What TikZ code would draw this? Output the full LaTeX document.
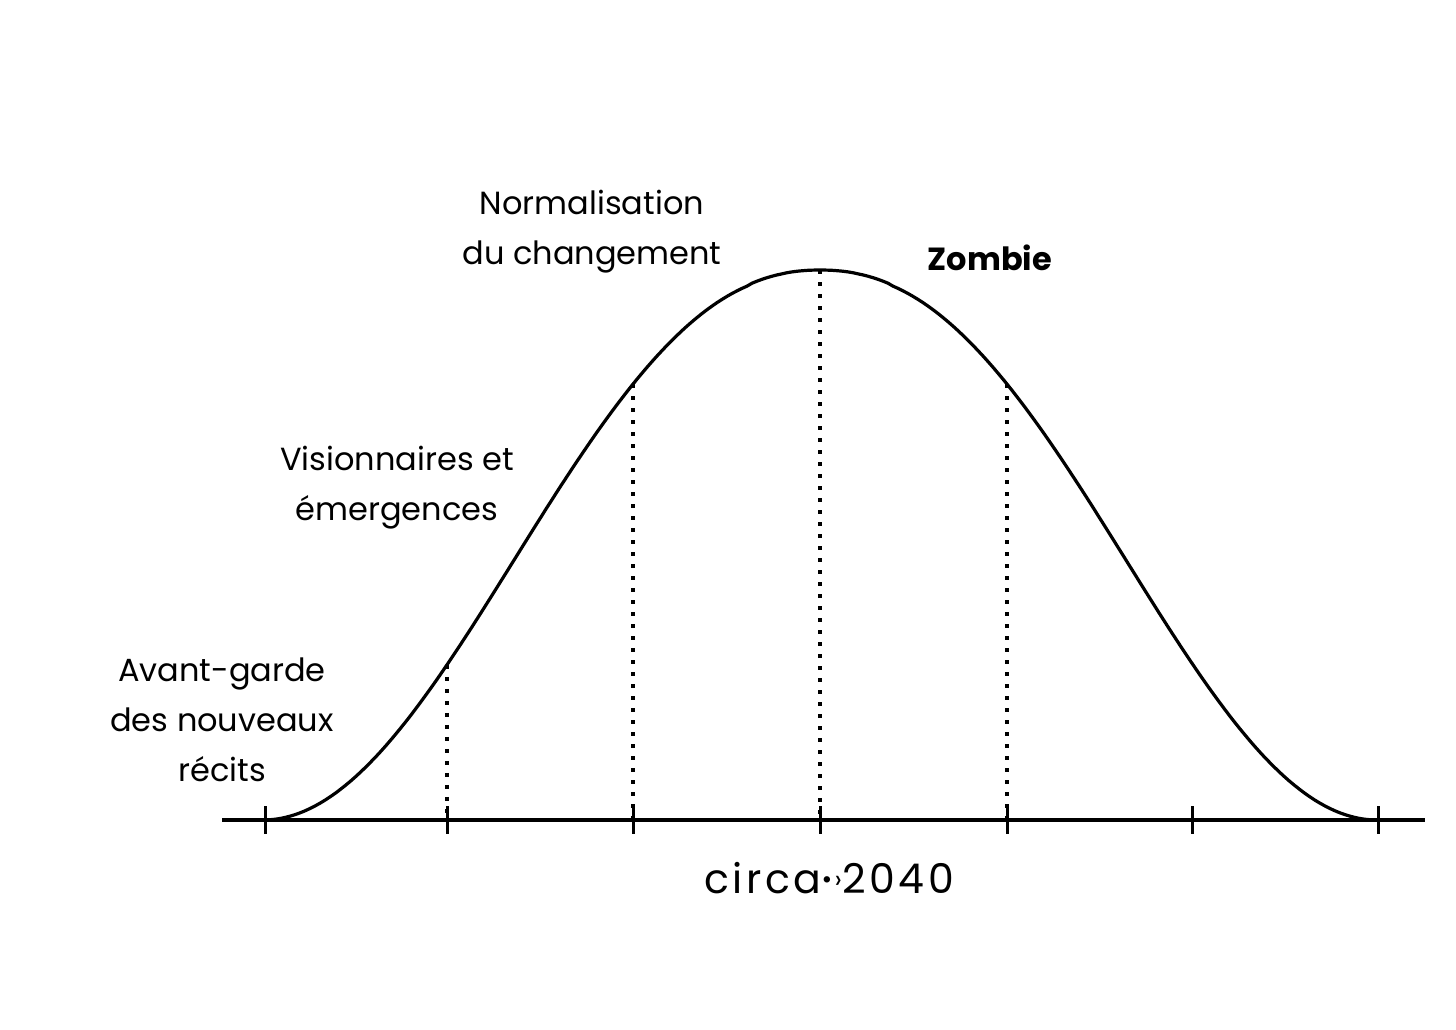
\documentclass[tikz,border=0pt]{standalone}
\usepackage{fontspec}
\setmainfont{Poppins}
\usetikzlibrary{positioning}

\tikzset{
  label text/.style={font=\fontsize{16}{25}\selectfont, align=center, inner sep=0pt},
  axis line/.style={line width=2pt},
  bell line/.style={line width=1.6pt},
  tick mark/.style={line width=1.5pt},
  drop line/.style={line width=2pt, dash pattern=on 2pt off 4pt},
}

\begin{document}
\begin{tikzpicture}[x=0.5pt, y=-0.5pt,
    declare function={bell(\x)=820-550*(1+cos(180*pow(min(abs(\x-820)/557,1)+0.00001,1.1)))/2;}]
  \useasboundingbox (0,0) rectangle (1456,1029);

  % axis
  \coordinate (axis-l) at (222,820);
  \coordinate (axis-r) at (1425,820);
  \draw[axis line] (axis-l) -- (axis-r);
  \foreach \i/\tx in {1/265,2/447,3/633,4/820,5/1007,6/1192,7/1378} {
    \coordinate (t\i) at (\tx,820);
    \draw[tick mark] ([yshift=7pt]t\i) -- ([yshift=-7pt]t\i);
  }

  % the curve
  \draw[bell line] plot[domain=245:1395, samples=230] (\x,{bell(\x)});

  % dotted drops
  \foreach \i/\tx in {2/447,3/633,4/820,5/1007} {
    \coordinate (c\i) at (\tx,{bell(\tx)});
    \draw[drop line] (c\i) -- (t\i);
  }

  % labels
  \node[label text] (normal) at (592,232) {Normalisation\\du changement};
  \node[label text, font=\fontsize{16}{25}\selectfont\bfseries] (zombie) at (990,258) {Zombie};
  \node[label text] (vision) at (397,488) {Visionnaires et\\émergences};
  \node[label text] (avant) at (222,720) {Avant-garde\\des nouveaux\\récits};
  \node[inner sep=0pt, font=\fontsize{20.5}{24}\selectfont\addfontfeature{LetterSpace=9}] (circa)
    at (829,878) {circa\raisebox{0.12em}{\fontsize{13}{13}\selectfont•›}2040};
\end{tikzpicture}
\end{document}
